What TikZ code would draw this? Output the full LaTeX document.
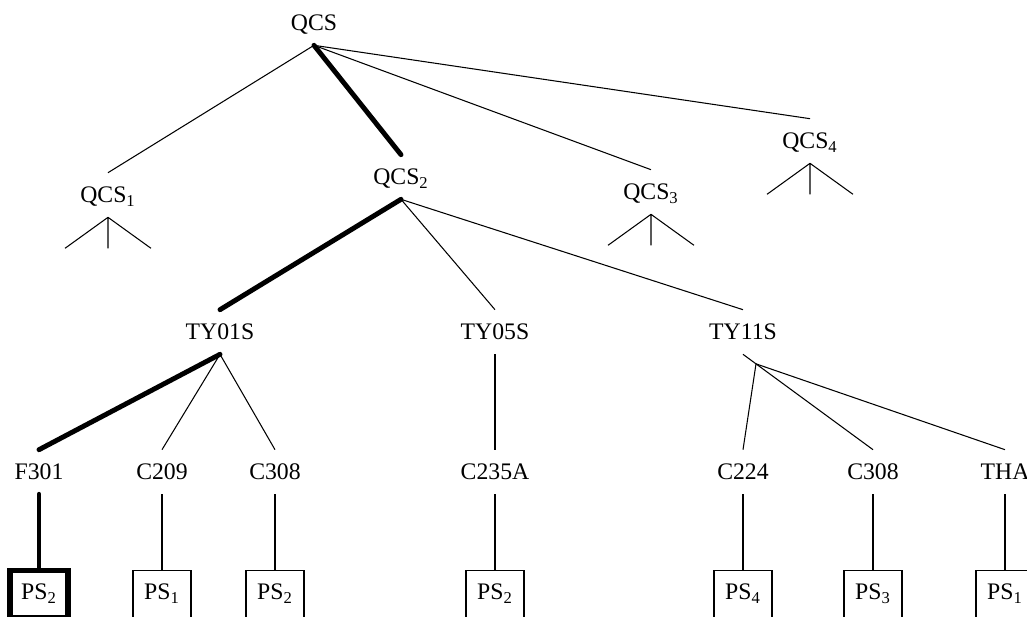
\documentclass[tikz,border=0pt]{standalone}
\usepackage{fontspec}
\setmainfont{Liberation Serif}
\begin{document}
\begin{tikzpicture}[x=0.02cm, y=-0.02cm,
  lbl/.style={font=\fontsize{13.5}{16}\selectfont, text height=9pt, text depth=0pt, inner xsep=0pt, inner ysep=8pt},
  psbox/.style={draw, line width=0.6pt, font=\fontsize{13.5}{16}\selectfont, minimum width=33pt, minimum height=27pt, inner sep=0pt},
  branche/.style={line width=0.6pt},
  chemin/.style={line width=2.8pt, line cap=round}]
% Cadre
\useasboundingbox (0,0) rectangle (1027,616);
% Niveau QCS
\node[lbl] (QCS) at (314,23) {QCS};
\node[lbl] (QCS1) at (108,195) {QCS\textsubscript{1}};
\node[lbl] (QCS2) at (401,177) {QCS\textsubscript{2}};
\node[lbl] (QCS3) at (651,192) {QCS\textsubscript{3}};
\node[lbl] (QCS4) at (810,141) {QCS\textsubscript{4}};
% Niveau TY
\node[lbl] (TY01S) at (220,332) {TY01S};
\node[lbl] (TY05S) at (495,332) {TY05S};
\node[lbl] (TY11S) at (743,332) {TY11S};
% Pieces
\node[lbl] (F301) at (39,472) {F301};
\node[lbl] (C209) at (162,472) {C209};
\node[lbl] (C308a) at (275,472) {C308};
\node[lbl] (C235A) at (495,472) {C235A};
\node[lbl] (C224) at (743,472) {C224};
\node[lbl] (C308b) at (873,472) {C308};
\node[lbl] (THA) at (1005,472) {THA};
% Postes
\node[psbox, line width=3pt] (bF301) at (39,594) {PS\textsubscript{2}};
\node[psbox] (bC209) at (162,594) {PS\textsubscript{1}};
\node[psbox] (bC308a) at (275,594) {PS\textsubscript{2}};
\node[psbox] (bC235A) at (495,594) {PS\textsubscript{2}};
\node[psbox] (bC224) at (743,594) {PS\textsubscript{4}};
\node[psbox] (bC308b) at (873,594) {PS\textsubscript{3}};
\node[psbox] (bTHA) at (1005,594) {PS\textsubscript{1}};
% Branches
\draw[branche] (QCS.south) -- (QCS1.north);
\draw[chemin] (QCS.south) -- (QCS2.north);
\draw[branche] (QCS.south) -- (QCS3.north);
\draw[branche] (QCS.south) -- (QCS4.north);
\foreach \n in {QCS1,QCS3,QCS4}
  \draw[branche] (\n.south) -- ++(-43,31) (\n.south) -- ++(0,31) (\n.south) -- ++(43,31);
\draw[chemin] (QCS2.south) -- (TY01S.north);
\draw[branche] (QCS2.south) -- (TY05S.north);
\draw[branche] (QCS2.south) -- (TY11S.north);
\draw[chemin] (TY01S.south) -- (F301.north);
\draw[branche] (TY01S.south) -- (C209.north);
\draw[branche] (TY01S.south) -- (C308a.north);
\draw[branche] (TY05S.south) -- (C235A.north);
\draw[branche] (TY11S.south) -- coordinate[pos=0.1] (fourche) (C308b.north);
\draw[branche] (fourche) -- (C224.north);
\draw[branche] (fourche) -- (THA.north);
% Vers les postes
\draw[chemin] (F301.south) -- (bF301.north);
\foreach \p in {C209,C308a,C235A,C224,C308b,THA}
  \draw[branche] (\p.south) -- (b\p.north);
\end{tikzpicture}
\end{document}
